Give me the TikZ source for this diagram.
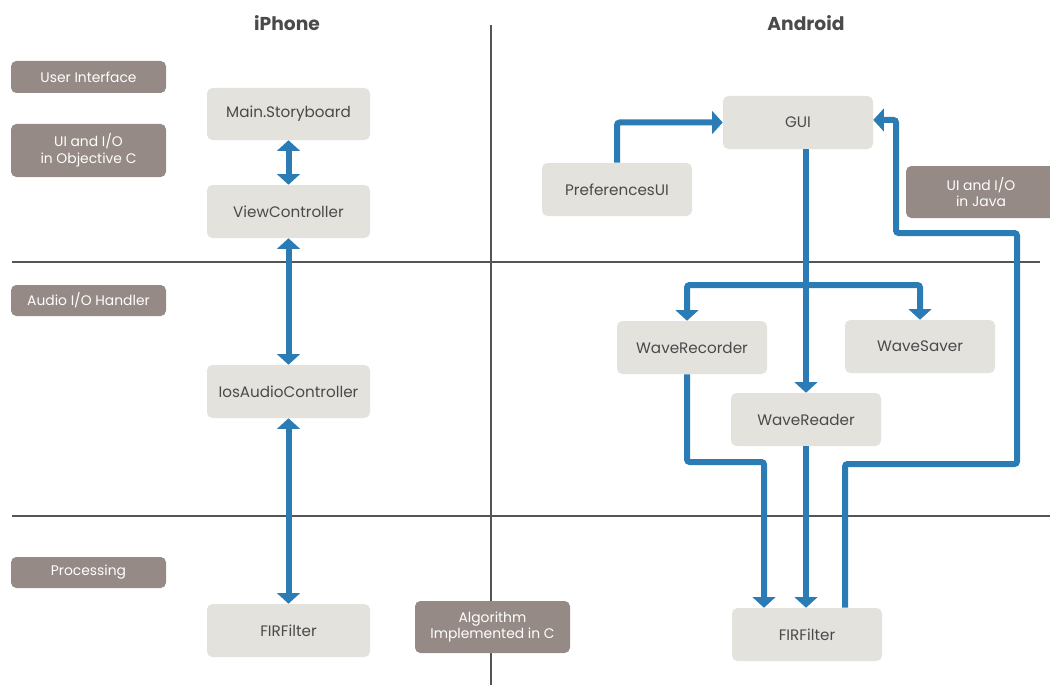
\documentclass[tikz,border=0pt]{standalone}
\usepackage{fontspec}
\setmainfont{Poppins}
\usetikzlibrary{arrows.meta}
\definecolor{boxg}{HTML}{E3E2DD}
\definecolor{boxb}{HTML}{958A85}
\definecolor{flowc}{HTML}{2B7BB4}
\definecolor{txt}{HTML}{4A4A4A}
\definecolor{rulec}{HTML}{555555}
\begin{document}
\begin{tikzpicture}[x=0.75pt,y=-0.75pt,
  lbox/.style 2 args={fill=boxg, rounded corners=4pt, minimum width=#1*0.75pt, minimum height=#2*0.75pt, inner sep=0pt, text=txt, font=\fontsize{11.4}{13.5}\selectfont, align=center},
  dbox/.style 2 args={fill=boxb, rounded corners=4pt, minimum width=#1*0.75pt, minimum height=#2*0.75pt, inner sep=0pt, text=white, font=\fontsize{10.4}{12.4}\selectfont, align=center},
  flow/.style={draw=flowc, line width=4.5pt, rounded corners=2pt, -{Triangle[width=17pt,length=8pt]}},
  both/.style={draw=flowc, line width=4.5pt, {Triangle[width=17pt,length=8pt]}-{Triangle[width=17pt,length=8pt]}},
  rulel/.style={draw=rulec, line width=1.2pt},
  title/.style={text=txt, font=\bfseries\fontsize{14}{16}\selectfont}
]
\useasboundingbox (0,0) rectangle (1050,685);
\coordinate (vt) at (491,25);
\coordinate (vb) at (491,685);
\coordinate (h1a) at (12,262);
\coordinate (h1b) at (1040,262);
\coordinate (h2a) at (12,516);
\coordinate (h2b) at (1050,516);
\draw[rulel] (vt) -- (vb);
\draw[rulel] (h1a) -- (h1b);
\draw[rulel] (h2a) -- (h2b);

\node[title] (tI) at (287,23) {iPhone};
\node[title] (tA) at (806,23) {Android};

\node[dbox={155}{32}] (lui) at (88.5,77) {User Interface};
\node[dbox={155}{53}] (luio) at (88.5,150.5) {UI and I/O\\in Objective C};
\node[dbox={155}{31}] (laud) at (88.5,300.5) {Audio I/O Handler};
\node[dbox={155}{31}] (lproc) at (88.5,572.5) {Processing};
\node[dbox={155}{52}] (lalg) at (492.5,627) {Algorithm\\Implemented in C};
\node[dbox={150}{52}] (ljava) at (981,192) {UI and I/O\\in Java};

\node[lbox={163}{52}] (ms) at (288.5,114) {Main.Storyboard};
\node[lbox={163}{53}] (vc) at (288.5,211.5) {ViewController};
\node[lbox={163}{53}] (iac) at (288.5,391.5) {IosAudioController};
\node[lbox={163}{53}] (firL) at (288.5,630.5) {FIRFilter};

\node[lbox={150}{53}] (gui) at (798,122.5) {GUI};
\node[lbox={150}{53}] (pref) at (617,189.5) {PreferencesUI};
\node[lbox={150}{53}] (wrec) at (692,347.5) {WaveRecorder};
\node[lbox={150}{53}] (wsav) at (920,346.5) {WaveSaver};
\node[lbox={150}{53}] (wread) at (806,419.5) {WaveReader};
\node[lbox={150}{53}] (firR) at (807,634.5) {FIRFilter};

\draw[both] (ms.south) -- (vc.north);
\draw[both] (vc.south) -- (iac.north);
\draw[both] (iac.south) -- (firL.north);

\draw[flow] (pref.north) |- (gui.west);
\draw[flow] (gui.south -| wread.north) -- (wread.north);
\coordinate (br) at (806,285);
\draw[flow] (br) -| ([xshift=-3.75pt]wrec.north);
\draw[flow] (br) -| (wsav.north);
\coordinate (k1) at (764,462);
\draw[flow] ([xshift=-3.75pt]wrec.south) |- (k1) -- (k1 |- firR.north);
\draw[flow] (wread.south) -- (wread.south |- firR.north);
\coordinate (k2) at (1017,464);
\coordinate (k3) at (896,233);
\draw[flow] ([xshift=28.5pt]firR.north) |- (k2) |- (k3) |- ([yshift=1.9pt]gui.east);
\end{tikzpicture}
\end{document}
